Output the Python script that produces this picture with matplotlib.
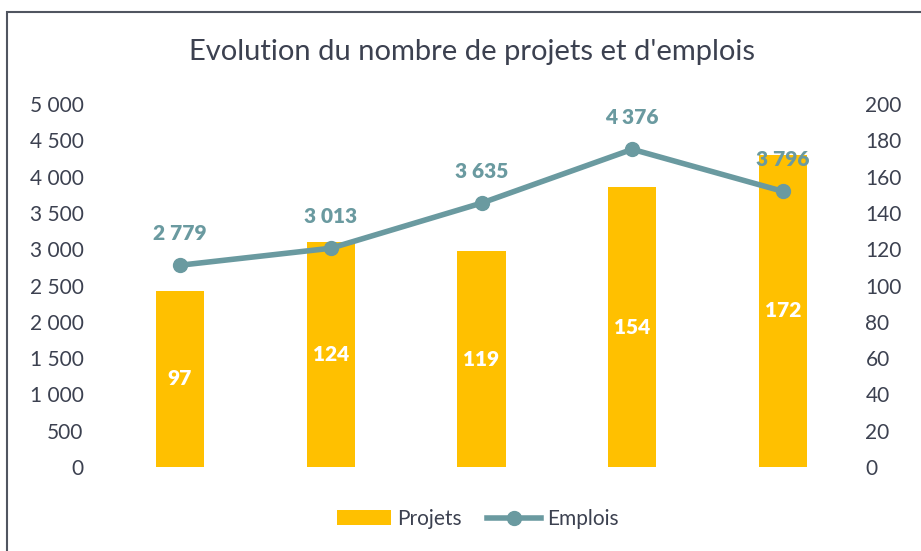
import matplotlib.pyplot as plt
from matplotlib.patches import Rectangle
from matplotlib.lines import Line2D
from matplotlib.patches import Patch
import numpy as np

plt.rcParams['font.family'] = ['Lato', 'DejaVu Sans']

annees = ['2015', '2016', '2017', '2018', '2019']
projets = [97, 124, 119, 154, 172]
emplois = [2779, 3013, 3635, 4376, 3796]

jaune = '#FFC000'
bleu = '#6A9AA0'
texte = '#3C4150'


def fmt(v):
    return f"{v:,}".replace(',', ' ')


fig = plt.figure(figsize=(9.21, 5.51), dpi=100)
ax = fig.add_axes([104.5 / 921, 84 / 551, 754 / 921, 363 / 551])
ax2 = ax.twinx()

x = np.arange(len(annees))

# barres (axe de droite)
ax2.bar(x, projets, width=0.32, color=jaune, zorder=1)
for xi, p in zip(x, projets):
    ax2.text(xi, p / 2, str(p), ha='center', va='center', color='white',
             fontsize=15, fontweight='heavy')

# ligne (axe de gauche)
ax.plot(x, emplois, color=bleu, linewidth=4, marker='o', markersize=10,
        zorder=3)
for xi, e in zip(x, emplois):
    ax.annotate(fmt(e), (xi, e), xytext=(0, 23), textcoords='offset points',
                ha='center', va='center', color=bleu, fontsize=15,
                fontweight='heavy', zorder=4)

# mettre la ligne au-dessus des barres
ax.set_zorder(ax2.get_zorder() + 1)
ax.patch.set_visible(False)

ax.set_xlim(-0.5, len(annees) - 0.5)
ax.set_ylim(0, 5000)
ax2.set_ylim(0, 200)
ax.set_yticks(np.arange(0, 5001, 500))
ax.set_yticklabels([fmt(v) for v in range(0, 5001, 500)])
ax2.set_yticks(np.arange(0, 201, 20))
ax.set_xticks([])

for a in (ax, ax2):
    for s in a.spines.values():
        s.set_visible(False)
    a.tick_params(axis='y', length=0, labelsize=15, labelcolor=texte)
    a.set_xticks([])
ax.tick_params(axis='y', pad=15)
ax2.tick_params(axis='y', pad=5)

fig.text(472 / 921, 1 - 52 / 551, "Evolution du nombre de projets et d'emplois",
         ha='center', va='center', fontsize=21, color=texte)

handles = [Patch(facecolor=jaune, label='Projets'),
           Line2D([], [], color=bleu, linewidth=4, marker='o', markersize=10,
                  label='Emplois')]
fig.legend(handles=handles, loc='center', bbox_to_anchor=(478 / 921, 1 - 519 / 551),
           ncol=2, frameon=False, fontsize=15, handlelength=2.6,
           columnspacing=1.2, handletextpad=0.3, labelcolor=texte)

# cadre du graphique
fig.add_artist(Rectangle((7 / 921, -0.05), 1.1, 1 - 12 / 551 + 0.05,
                         transform=fig.transFigure, fill=False,
                         edgecolor='#505560', linewidth=1.5))

fig.savefig('out.png', dpi=100)
